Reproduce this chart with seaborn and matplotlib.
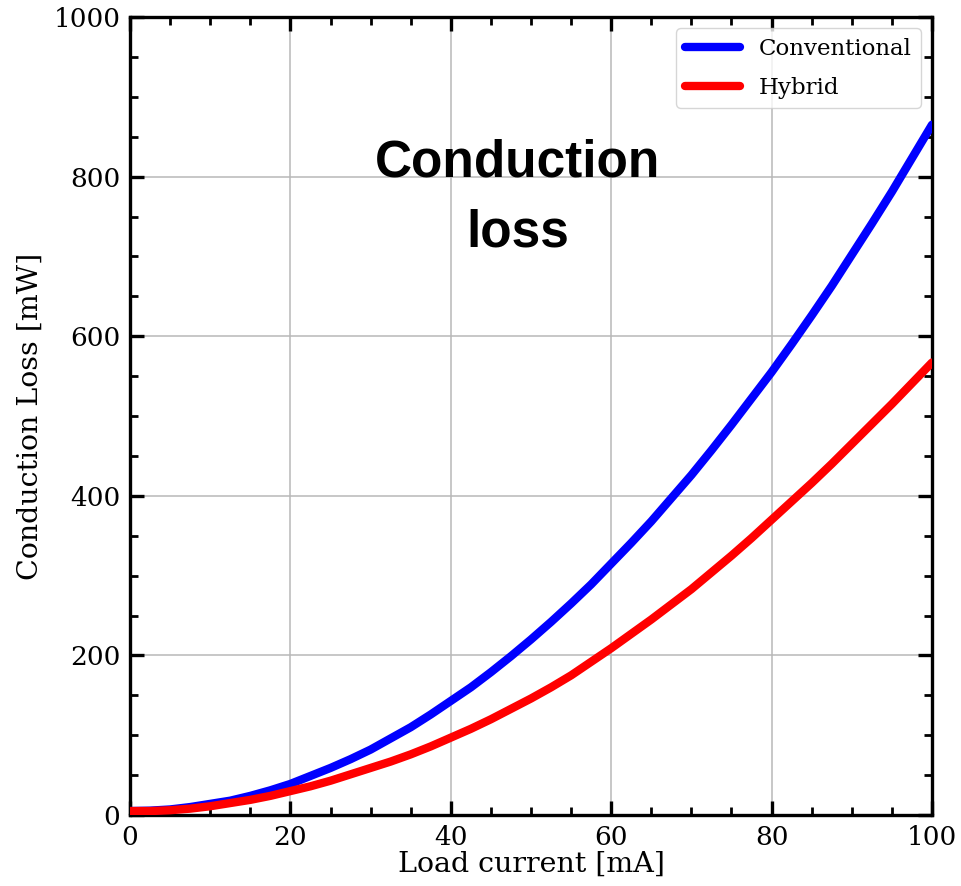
import matplotlib
matplotlib.use("Agg")
import matplotlib.pyplot as plt
import seaborn as sns
import pandas as pd
from matplotlib.ticker import MultipleLocator

# Load current sweep [mA]
current_ma = [0, 2.5, 5, 7.5, 10, 12.5, 15, 17.5, 20, 22.5, 25, 27.5,
              30, 32.5, 35, 37.5, 40, 42.5, 45, 47.5, 50, 52.5, 55, 57.5,
              60, 62.5, 65, 67.5, 70, 72.5, 75, 77.5, 80, 82.5, 85, 87.5,
              90, 92.5, 95, 97.5, 100]

# Conduction loss [mW]
loss_conventional = [5, 5.5, 7, 10, 14, 18, 24, 31, 39, 49, 59, 70,
                     82, 96, 110, 126, 143, 160, 179, 199, 220, 242, 265, 289,
                     315, 341, 368, 397, 426, 457, 489, 522, 555, 590, 626, 663,
                     702, 741, 781, 823, 865]
loss_hybrid = [5, 5, 6, 8, 11, 15, 19, 24, 30, 36, 43, 51,
               59, 67, 76, 86, 97, 108, 120, 133, 146, 160, 175, 192,
               209, 227, 245, 264, 283, 304, 325, 347, 370, 393, 416, 440,
               465, 490, 515, 541, 567]

series_names = ["Conventional", "Hybrid"]
series_colors = ["#0000ff", "#ff0000"]

x_ticks = [0, 20, 40, 60, 80, 100]
y_ticks = [0, 200, 400, 600, 800, 1000]

df = pd.concat([
    pd.DataFrame({"current": current_ma, "loss": loss_conventional,
                  "topology": series_names[0]}),
    pd.DataFrame({"current": current_ma, "loss": loss_hybrid,
                  "topology": series_names[1]}),
], ignore_index=True)

sns.set_style("white")
plt.rcParams["font.family"] = ["DejaVu Serif"]
plt.rcParams["mathtext.fontset"] = "dejavuserif"
plt.rcParams["text.color"] = "black"
plt.rcParams["axes.labelcolor"] = "black"

fig = plt.figure(figsize=(9.61, 8.86), dpi=100)
ax = fig.add_axes([0.1353, 0.0801, 0.8345, 0.9007])

sns.lineplot(data=df, x="current", y="loss", hue="topology",
             palette=dict(zip(series_names, series_colors)),
             linewidth=6, ax=ax, legend=True, zorder=3)

ax.set_xlim(0, 100)
ax.set_ylim(0, 1000)
ax.set_xticks(x_ticks)
ax.set_yticks(y_ticks)
ax.xaxis.set_minor_locator(MultipleLocator(5))
ax.yaxis.set_minor_locator(MultipleLocator(50))

ax.grid(True, which="major", color="#b8b8b8", linewidth=1.1, zorder=0)
ax.set_axisbelow(True)

for side in ["left", "right", "top", "bottom"]:
    ax.spines[side].set_visible(True)
    ax.spines[side].set_color("black")
    ax.spines[side].set_linewidth(2.4)

ax.tick_params(which="both", direction="in", top=True, right=True,
               bottom=True, left=True, colors="black")
ax.tick_params(which="major", length=10, width=2.4, labelsize=19, pad=7)
ax.tick_params(which="minor", length=6, width=2.0)

ax.set_xlabel("Load current [mA]", fontsize=20.5, labelpad=1)
ax.set_ylabel("Conduction Loss [mW]", fontsize=20.5, labelpad=7)

leg = ax.legend(loc="upper right", fontsize=16.5, frameon=True, fancybox=True,
                framealpha=0.8, edgecolor="#cccccc", handlelength=2.4,
                labelspacing=0.75, borderaxespad=0.5, title=None)
for line in leg.get_lines():
    line.set_linewidth(6)
for txt in leg.get_texts():
    txt.set_color("black")

ax.text(48.3, 773, "Conduction\nloss", ha="center", va="center",
        multialignment="center", fontsize=37, fontweight="bold",
        color="black", family=["Liberation Sans", "DejaVu Sans"],
        linespacing=1.55, zorder=4)

fig.savefig("out.png", dpi=100)
